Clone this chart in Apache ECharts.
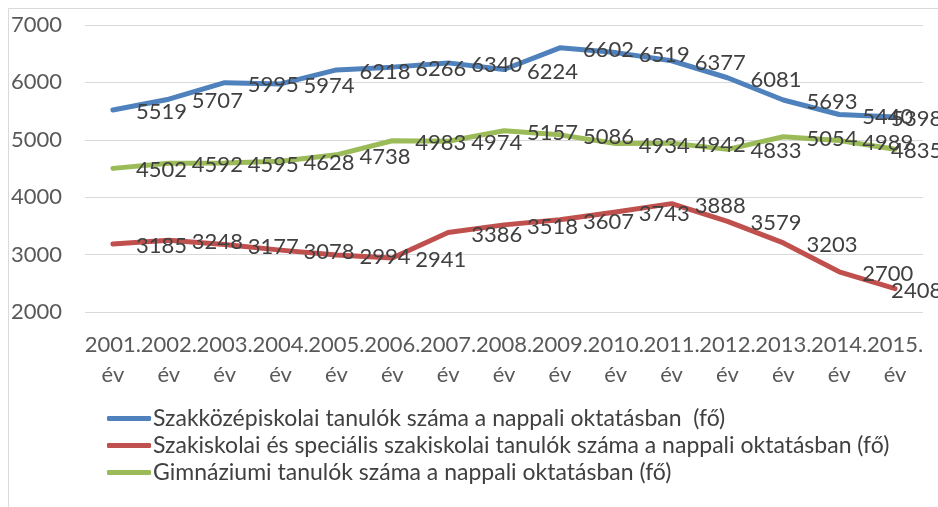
<!DOCTYPE html>
<html>
<head>
<meta charset="utf-8">
<script src="https://cdn.jsdelivr.net/npm/echarts@6/dist/echarts.min.js"></script>
<style>
html, body { margin: 0; padding: 0; background: #fff; }
#chart { width: 938px; height: 507px; }
</style>
</head>
<body>
<div id="chart"></div>
<script>
// évek
var years = ['2001.\név', '2002.\név', '2003.\név', '2004.\név', '2005.\név', '2006.\név', '2007.\név', '2008.\név',
	'2009.\név', '2010.\név', '2011.\név', '2012.\név', '2013.\név', '2014.\név', '2015.\név'];
var names = [
	'Szakközépiskolai tanulók száma a nappali oktatásban  (fő)',
	'Szakiskolai és speciális szakiskolai tanulók száma a nappali oktatásban (fő)',
	'Gimnáziumi tanulók száma a nappali oktatásban (fő)'
];
var szakkozep = [5519, 5707, 5995, 5974, 6218, 6266, 6340, 6224, 6602, 6519, 6377, 6081, 5693, 5440, 5398];
var szakiskola = [3185, 3248, 3177, 3078, 2994, 2941, 3386, 3518, 3607, 3743, 3888, 3579, 3203, 2700, 2408];
var gimnazium = [4502, 4592, 4595, 4628, 4738, 4983, 4974, 5157, 5086, 4934, 4942, 4833, 5054, 4989, 4835];
var colors = ['#4F81BD', '#C0504D', '#9BBB59'];

var font = 'Lato, "Noto Sans", sans-serif';

function mkSeries(name, data, color) {
	// az utolsó felirat a szélén befelé csúszik, mint az Excelben
	var items = data.map(function(v, i) {
		if (i === data.length - 1) {
			return { value: v, label: { distance: -4 } };
		}
		return v;
	});
	return {
		name: name,
		type: 'line',
		data: items,
		symbol: 'circle',
		symbolSize: 0.1,
		lineStyle: { width: 5, color: color, cap: 'round', join: 'round' },
		itemStyle: { color: color },
		label: {
			show: true,
			position: 'right',
			distance: 23,
			offset: [0, 2],
			color: '#404040',
			fontSize: 22,
			fontFamily: font
		},
		emphasis: { disabled: true }
	};
}

var chart = echarts.init(document.getElementById('chart'));
var option = {
	animation: false,
	color: colors,
	graphic: [{
		type: 'rect',
		shape: { x: 8.5, y: 8.5, width: 1000, height: 1000 },
		style: { fill: 'none', stroke: '#d9d9d9', lineWidth: 1 },
		silent: true
	}],
	grid: { left: 85, right: 15, top: 25, bottom: 195 },
	legend: {
		orient: 'vertical',
		left: 102,
		top: 402,
		itemGap: 4,
		itemWidth: 44,
		itemHeight: 5,
		icon: 'roundRect',
		textStyle: { color: '#404040', fontSize: 23, fontFamily: font, padding: [0, 0, 0, -3] },
		data: names
	},
	xAxis: {
		type: 'category',
		data: years,
		boundaryGap: true,
		axisLine: { show: false },
		axisTick: { show: false },
		axisLabel: {
			color: '#595959',
			fontSize: 22,
			fontFamily: font,
			lineHeight: 30,
			margin: 18,
			interval: 0
		}
	},
	yAxis: {
		type: 'value',
		min: 2000,
		max: 7000,
		interval: 1000,
		axisLine: { show: false },
		axisTick: { show: false },
		axisLabel: {
			color: '#595959',
			fontSize: 22,
			fontFamily: font,
			margin: 23,
			formatter: function(v) { return String(v); }
		},
		splitLine: { lineStyle: { color: '#d9d9d9', width: 1 } }
	},
	series: [
		mkSeries(names[0], szakkozep, colors[0]),
		mkSeries(names[1], szakiskola, colors[1]),
		mkSeries(names[2], gimnazium, colors[2])
	]
};
chart.setOption(option);
</script>
</body>
</html>
